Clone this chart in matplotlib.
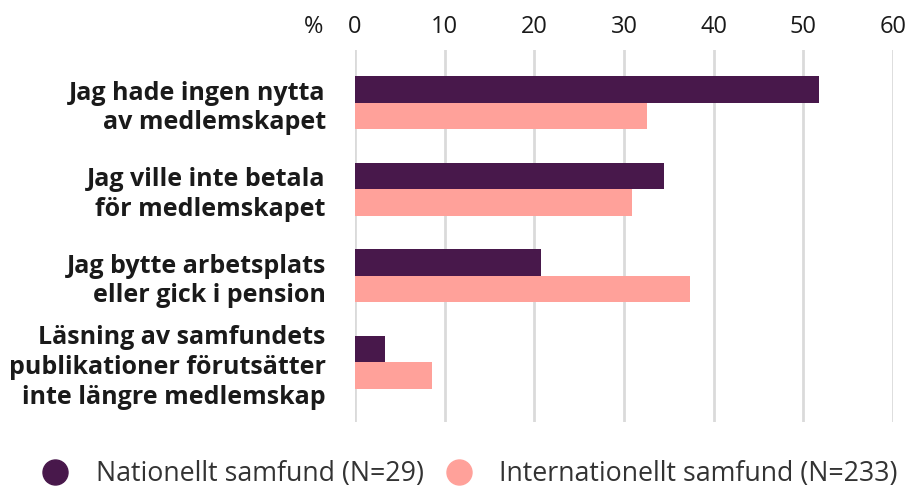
import numpy as np
import matplotlib
matplotlib.use("Agg")
import matplotlib.pyplot as plt
from matplotlib.lines import Line2D

# -- data -----------------------------------------------------------------------
categories = [
    "Jag hade ingen nytta\nav medlemskapet",
    "Jag ville inte betala\nför medlemskapet",
    "Jag bytte arbetsplats\neller gick i pension",
    "Läsning av samfundets\npublikationer förutsätter\ninte längre medlemskap",
]
nationellt = [51.7, 34.5, 20.7, 3.4]
internationellt = [32.6, 30.9, 37.3, 8.6]
series_names = ["Nationellt samfund (N=29)", "Internationellt samfund (N=233)"]
xticks = [0, 10, 20, 30, 40, 50, 60]

# -- style ----------------------------------------------------------------------
C_NAT = "#48184B"
C_INT = "#FFA19A"
GRID = "#DADADA"
TXT = "#1a1a1a"
plt.rcParams["font.family"] = ["Open Sans", "DejaVu Sans"]

fig = plt.figure(figsize=(9.09, 4.90), dpi=100)
ax = fig.add_axes([0.3905, 0.139, 0.592, 0.759])

y = np.arange(len(categories))
h = 0.306
ax.barh(y - h / 2, nationellt, height=h, color=C_NAT, zorder=3)
ax.barh(y + h / 2, internationellt, height=h, color=C_INT, zorder=3)

ax.set_xlim(0, 60)
ax.set_ylim(3.69, -0.61)
ax.set_xticks(xticks)
ax.xaxis.tick_top()
ax.tick_params(axis="x", length=0, pad=8, labelsize=17, labelcolor=TXT)
ax.set_yticks(y)
ax.set_yticklabels(categories, fontsize=18, fontweight="bold", color=TXT,
                   linespacing=1.25)
ax.tick_params(axis="y", length=0, pad=21)
ax.grid(axis="x", color=GRID, linewidth=2, zorder=0)
for s in ax.spines.values():
    s.set_visible(False)

# percent sign left of the 0 tick, aligned with the tick labels
pct = ax.text(-4.6, 1.0, "%", transform=ax.get_xaxis_transform(), ha="center",
              va="bottom", fontsize=17, color=TXT)
fig.canvas.draw()
tl = ax.get_xticklabels()[0].get_window_extent()
inv = ax.get_xaxis_transform().inverted()
pct.set_position((-4.6, inv.transform((0, tl.y0))[1]))

handles = [
    Line2D([], [], marker="o", linestyle="", markersize=18, color=C_NAT),
    Line2D([], [], marker="o", linestyle="", markersize=18, color=C_INT),
]
fig.legend(handles, series_names, loc="lower left", bbox_to_anchor=(0.005, -0.045),
           ncol=2, frameon=False, fontsize=19.3, handletextpad=0.5,
           columnspacing=0.3, labelcolor="#333333")

fig.savefig("out.png", dpi=100)
